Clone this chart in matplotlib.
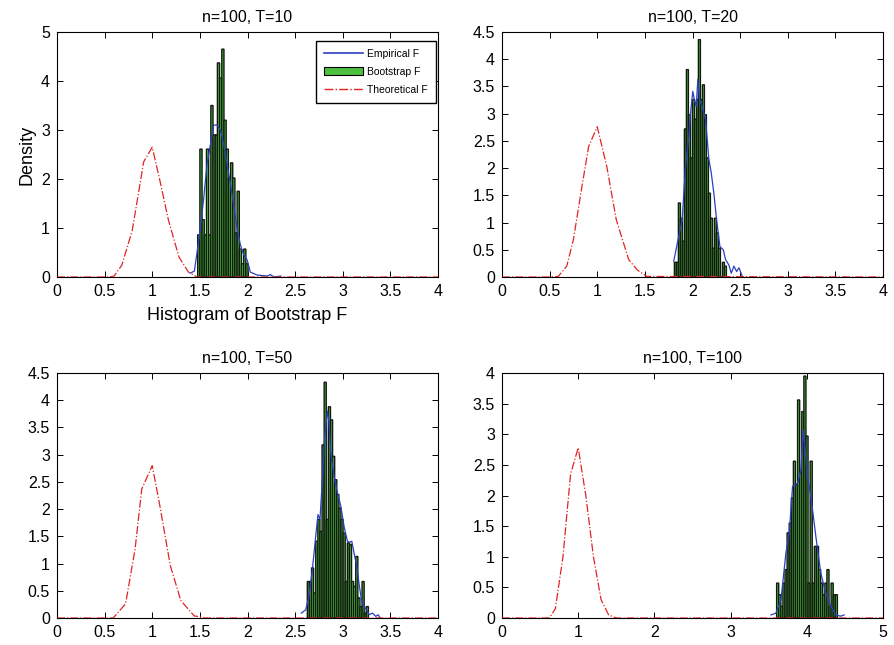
import numpy as np
import matplotlib
matplotlib.use("Agg")
import matplotlib.pyplot as plt
from matplotlib.patches import Patch
from matplotlib.lines import Line2D

plt.rcParams['font.family'] = ['Liberation Sans', 'DejaVu Sans']

titles = ["n=100, T=10", "n=100, T=20", "n=100, T=50", "n=100, T=100"]
xmax = [4, 4, 4, 5]
ymax = [5, 4.5, 4.5, 4]
xstep = [0.5, 0.5, 0.5, 1]
ystep = [1, 0.5, 0.5, 0.5]

# histogram of bootstrap F: first bin left edge, bin width, heights
bin_start = [1.477, 1.81, 2.628, 3.604]
bin_width = [0.023, 0.021, 0.0221, 0.0275]
hist_1 = [0.86, 2.61, 1.17, 0.86, 2.61, 0.86, 3.5, 2.9, 2.9, 4.37, 4.06, 4.65,
          3.2, 2.61, 2.02, 2.33, 2.02, 0.9, 1.75, 0.57, 0.27, 0.57, 0.27]
hist_2 = [0.27, 0.27, 1.36, 1.08, 0.66, 2.72, 3.81, 2.98, 2.19, 3.26, 2.9, 3.26,
          4.36, 3.26, 3.53, 2.98, 2.19, 1.54, 1.08, 0.53, 1.08, 0.81, 0.53, 0.0,
          0.27, 0.2]
hist_3 = [0.67, 0.67, 0.92, 0.46, 1.41, 1.81, 1.59, 3.18, 4.33, 1.81, 3.88, 3.64,
          2.97, 2.54, 2.27, 2.02, 1.81, 1.56, 0.67, 1.38, 1.35, 0.67, 0.58, 1.13,
          0.37, 0.21, 0.67, 0.09, 0.21]
hist_4 = [0.57, 0.38, 0.19, 0.57, 0.79, 1.39, 1.55, 1.96, 2.56, 2.18, 3.56, 2.37,
          3.37, 3.95, 2.97, 0.57, 2.56, 0.57, 1.17, 1.17, 0.79, 0.57, 0.38, 0.57,
          0.79, 0.19, 0.57, 0.38, 0.38]

# empirical F density
emp_x_1 = [1.40, 1.442, 1.47, 1.505, 1.54, 1.575, 1.61, 1.645, 1.68, 1.716, 1.751,
           1.786, 1.821, 1.856, 1.891, 1.926, 1.961, 1.996, 2.03, 2.10, 2.21, 2.24,
           2.28, 2.35]
emp_y_1 = [0.08, 0.12, 0.5, 1.0, 1.6, 2.3, 2.7, 3.1, 3.1, 3.0, 2.7,
           2.3, 1.9, 1.45, 1.0, 0.65, 0.45, 0.35, 0.1, 0.04, 0.02, 0.05,
           0.0, 0.02]
emp_x_2 = [1.803, 1.856, 1.891, 1.926, 1.961, 1.979, 2.003, 2.021, 2.039, 2.056,
           2.074, 2.102, 2.137, 2.172, 2.197, 2.224, 2.253, 2.288, 2.323, 2.347,
           2.382, 2.407, 2.435, 2.463, 2.488, 2.523]
emp_y_2 = [0.29, 0.75, 1.04, 2.02, 2.57, 3.0, 3.41, 3.25, 3.13, 3.63,
           3.26, 3.13, 2.89, 2.16, 1.91, 1.54, 1.05, 0.56, 0.50, 0.32,
           0.22, 0.07, 0.20, 0.10, 0.17, 0.01]
emp_x_3 = [2.565, 2.611, 2.646, 2.681, 2.716, 2.740, 2.761, 2.786, 2.811, 2.839,
           2.856, 2.874, 2.909, 2.944, 2.979, 3.014, 3.049, 3.074, 3.095, 3.119,
           3.147, 3.175, 3.196, 3.224, 3.253, 3.277, 3.312, 3.347, 3.372, 3.393]
emp_y_3 = [0.09, 0.15, 0.40, 0.89, 1.50, 1.90, 1.81, 2.54, 3.34, 3.80,
           3.59, 3.03, 2.60, 2.30, 2.06, 1.68, 1.41, 1.39, 1.41, 1.19,
           0.95, 0.58, 0.34, 0.21, 0.15, 0.06, 0.09, 0.03, 0.06, 0.0]
emp_x_4 = [3.530, 3.595, 3.661, 3.726, 3.770, 3.813, 3.879, 3.922, 3.953, 3.988,
           4.009, 4.053, 4.119, 4.184, 4.249, 4.315, 4.380, 4.446, 4.490]
emp_y_4 = [0.05, 0.08, 0.30, 1.06, 1.39, 2.15, 2.20, 2.42, 3.07, 2.6,
           2.31, 1.99, 1.33, 0.73, 0.41, 0.19, 0.05, 0.03, 0.05]

# theoretical F density
theo_x_1 = [0, 0.55, 0.6, 0.68, 0.79, 0.91, 1.0, 1.08, 1.17, 1.28, 1.38, 1.47, 4.0]
theo_y_1 = [0, 0, 0.02, 0.24, 0.95, 2.35, 2.65, 1.97, 1.16, 0.41, 0.1, 0.0, 0]
theo_x_2 = [0, 0.5, 0.59, 0.68, 0.75, 0.84, 0.91, 1.0, 1.1, 1.2, 1.33, 1.42, 1.52, 4.0]
theo_y_2 = [0, 0, 0.01, 0.2, 0.69, 1.67, 2.4, 2.76, 2.03, 1.05, 0.32, 0.13, 0.01, 0]
theo_x_3 = [0, 0.59, 0.72, 0.82, 0.89, 1.0, 1.08, 1.19, 1.3, 1.44, 1.55, 4.0]
theo_y_3 = [0, 0, 0.26, 1.27, 2.37, 2.8, 2.06, 0.96, 0.32, 0.04, 0, 0]
theo_x_4 = [0, 0.62, 0.7, 0.8, 0.9, 1.0, 1.1, 1.2, 1.3, 1.4, 1.5, 5.0]
theo_y_4 = [0, 0, 0.15, 1.0, 2.35, 2.78, 2.0, 1.0, 0.3, 0.05, 0, 0]

hists = [hist_1, hist_2, hist_3, hist_4]
emp = [(emp_x_1, emp_y_1), (emp_x_2, emp_y_2), (emp_x_3, emp_y_3), (emp_x_4, emp_y_4)]
theo = [(theo_x_1, theo_y_1), (theo_x_2, theo_y_2), (theo_x_3, theo_y_3), (theo_x_4, theo_y_4)]

blue = "#2b3fbf"
green = "#4ec040"
red = "#e02424"

fig = plt.figure(figsize=(8.94, 6.45), dpi=100)
W, H = 894, 645
boxes = [(57, 32), (502, 32), (57, 373), (502, 373)]

for i in range(4):
    left, top = boxes[i]
    ax = fig.add_axes([left / W, (H - top - 245) / H, 381 / W, 245 / H])

    h = np.array(hists[i])
    edges = bin_start[i] + bin_width[i] * np.arange(len(h))
    bars = ax.bar(edges, h, width=bin_width[i], align="edge", color=green,
                  edgecolor="#121a10", linewidth=1.0, zorder=2)
    for b in bars:
        b.set_snap(False)
    ax.plot(emp[i][0], emp[i][1], color=blue, lw=0.9, zorder=3)
    ax.plot(theo[i][0], theo[i][1], color=red, lw=0.9, ls="-.", zorder=4)

    ax.set_xlim(0, xmax[i])
    ax.set_ylim(0, ymax[i])
    ax.set_xticks(np.arange(0, xmax[i] + 0.01, xstep[i]))
    ax.set_yticks(np.arange(0, ymax[i] + 0.01, ystep[i]))
    ax.set_xticklabels([f"{v:g}" for v in ax.get_xticks()])
    ax.set_yticklabels([f"{v:g}" for v in ax.get_yticks()])
    ax.tick_params(direction="in", top=True, right=True, length=4, width=0.7,
                   labelsize=11.5, pad=5)
    for s in ax.spines.values():
        s.set_linewidth(0.8)
    ax.set_title(titles[i], fontsize=11.5, pad=7)

    if i == 0:
        ax.set_ylabel("Density", fontsize=13, labelpad=4)
        ax.set_xlabel("Histogram of Bootstrap F", fontsize=13, labelpad=6)
        handles = [Line2D([], [], color=blue, lw=1.2),
                   Patch(facecolor=green, edgecolor="black", linewidth=0.8),
                   Line2D([], [], color=red, lw=1.0, ls="-.")]
        ax.legend(handles, ["Empirical F", "Bootstrap F", "Theoretical F"],
                  loc="upper right", bbox_to_anchor=(0.995, 0.965), fontsize=7.5,
                  fancybox=False, edgecolor="black", framealpha=1,
                  handlelength=3.7, handletextpad=0.4, borderaxespad=0,
                  borderpad=0.8, labelspacing=0.75)

fig.savefig("out.png", dpi=100)
